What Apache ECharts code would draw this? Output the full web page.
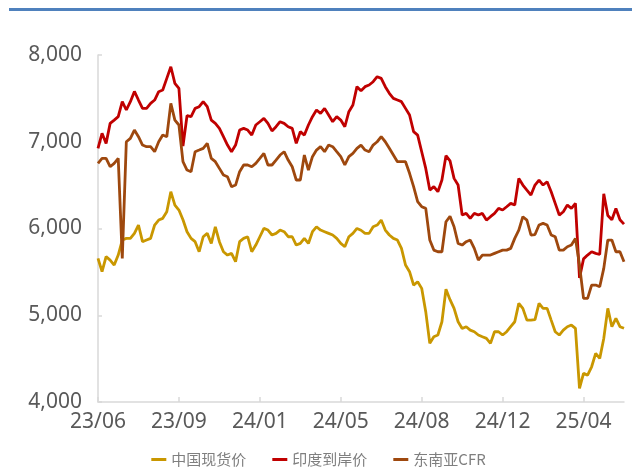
<!DOCTYPE html>
<html>
<head>
<meta charset="utf-8">
<script src="https://cdn.jsdelivr.net/npm/echarts@6/dist/echarts.min.js"></script>
<style>
  html, body { margin: 0; padding: 0; background: #fff; }
  #chart { width: 637px; height: 475px; }
</style>
</head>
<body>
<div id="chart"></div>
<script>
  // x轴刻度标签（每20个点一个）
  const tickLabels = ['23/06', '23/09', '24/01', '24/05', '24/08', '24/12', '25/04']
  const tickStep = 20

  // 中国现货价
  const chinaSpot = [
    5656, 5502, 5675, 5636, 5579, 5694, 5867, 5886, 5886, 5944,
    6040, 5848, 5867, 5886, 6040, 6097, 6117, 6193, 6424, 6270,
    6213, 6100, 5963, 5886, 5848, 5732, 5905, 5944, 5828, 6020,
    5848, 5732, 5694, 5713, 5617, 5848, 5886, 5905, 5732, 5809,
    5905, 6001, 5982, 5925, 5944, 5982, 5963, 5905, 5905, 5809,
    5828, 5886, 5828, 5963, 6020, 5982, 5963, 5944, 5925, 5886,
    5828, 5790, 5905, 5944, 6001, 5980, 5944, 5944, 6020, 6040,
    6097, 5982, 5925, 5886, 5867, 5771, 5579, 5502, 5348, 5386,
    5310, 5041, 4676, 4752, 4772, 4925, 5300, 5180, 5079, 4925,
    4848, 4868, 4829, 4810, 4772, 4752, 4733, 4676, 4810, 4810,
    4772, 4810, 4868, 4925, 5137, 5079, 4944, 4944, 4950, 5137,
    5079, 5079, 4944, 4810, 4772, 4829, 4868, 4887, 4848, 4157,
    4330, 4310, 4406, 4560, 4502, 4733, 5079, 4868, 4964, 4868,
    4850
  ]

  // 印度到岸价
  const indiaCfr = [
    6924, 7097, 6981, 7212, 7250, 7289, 7462, 7366, 7462, 7580,
    7481, 7385, 7385, 7443, 7481, 7577, 7596, 7731, 7865, 7673,
    7615, 6950, 7300, 7289, 7385, 7404, 7462, 7404, 7250, 7212,
    7154, 7058, 6962, 6885, 6962, 7135, 7154, 7135, 7077, 7193,
    7231, 7270, 7212, 7125, 7173, 7231, 7212, 7173, 7154, 6981,
    7116, 7077, 7193, 7289, 7366, 7327, 7385, 7308, 7231, 7289,
    7250, 7173, 7346, 7423, 7635, 7587, 7635, 7654, 7692, 7750,
    7731, 7635, 7558, 7500, 7481, 7462, 7385, 7308, 7116, 7077,
    6885, 6693, 6443, 6482, 6424, 6559, 6840, 6780, 6578, 6501,
    6155, 6174, 6117, 6174, 6155, 6174, 6097, 6136, 6174, 6232,
    6213, 6251, 6290, 6270, 6578, 6501, 6443, 6386, 6501, 6559,
    6501, 6539, 6424, 6290, 6155, 6193, 6270, 6232, 6290, 5430,
    5650, 5694, 5732, 5713, 5700, 6400, 6150, 6100, 6230, 6100,
    6050
  ]

  // 东南亚CFR
  const seaCfr = [
    6751, 6808, 6808, 6712, 6751, 6808, 5656, 7000, 7039, 7135,
    7058, 6962, 6943, 6943, 6885, 7000, 7077, 7058, 7443, 7250,
    7193, 6770, 6674, 6655, 6885, 6904, 6924, 6981, 6808, 6770,
    6693, 6616, 6597, 6482, 6501, 6655, 6732, 6732, 6712, 6751,
    6808, 6866, 6732, 6732, 6789, 6847, 6885, 6789, 6712, 6559,
    6559, 6847, 6674, 6828, 6904, 6943, 6885, 6962, 6943, 6885,
    6828, 6732, 6828, 6866, 6924, 6962, 6904, 6885, 6962, 7000,
    7058, 7000, 6924, 6847, 6770, 6770, 6770, 6636, 6482, 6309,
    6251, 6232, 5867, 5751, 5732, 5732, 6078, 6140, 6020, 5828,
    5809, 5848, 5867, 5771, 5636, 5694, 5694, 5694, 5713, 5732,
    5751, 5751, 5771, 5886, 5982, 6136, 6097, 5925, 5930, 6040,
    6059, 6040, 5925, 5905, 5751, 5751, 5790, 5809, 5886, 5579,
    5194, 5194, 5348, 5348, 5329, 5540, 5867, 5867, 5732, 5732,
    5617
  ]

  const categories = chinaSpot.map((_, i) => i)

  const chart = echarts.init(document.getElementById('chart'))

  const axisColor = '#D9D9D9'
  const labelColor = '#595959'

  const option = {
    animation: false,
    color: ['#C99700', '#C00000', '#9E480E'],
    graphic: [
      {
        type: 'rect',
        shape: { x: 9, y: 8, width: 623, height: 3 },
        style: { fill: '#4F81BD' }
      }
    ],
    legend: {
      bottom: 3,
      left: 'center',
      icon: 'rect',
      itemWidth: 15,
      itemHeight: 3,
      itemGap: 26,
      textStyle: {
        color: '#7F7F7F',
        fontSize: 15,
        fontFamily: 'Noto Sans CJK SC'
      },
      data: ['中国现货价', '印度到岸价', '东南亚CFR']
    },
    grid: {
      left: 98,
      right: 13,
      top: 55,
      bottom: 73
    },
    xAxis: {
      type: 'category',
      data: categories,
      boundaryGap: false,
      axisLine: { lineStyle: { color: axisColor, width: 1.5 } },
      axisTick: {
        inside: true,
        length: 5,
        interval: (idx) => idx % tickStep === 0,
        lineStyle: { color: axisColor, width: 1.5 }
      },
      axisLabel: {
        interval: (idx) => idx % tickStep === 0,
        formatter: (val, idx) => tickLabels[idx / tickStep],
        color: labelColor,
        fontSize: 21,
        fontFamily: 'Noto Sans',
        margin: 10
      },
      splitLine: { show: false }
    },
    yAxis: {
      type: 'value',
      min: 4000,
      max: 8000,
      interval: 1000,
      axisLine: { show: true, lineStyle: { color: axisColor, width: 1.5 } },
      axisTick: {
        show: true,
        inside: true,
        length: 4,
        lineStyle: { color: axisColor, width: 1.5 }
      },
      axisLabel: {
        formatter: (v) => v.toLocaleString('en-US'),
        color: labelColor,
        fontSize: 21,
        fontFamily: 'Noto Sans',
        margin: 16
      },
      splitLine: { show: false }
    },
    series: [
      { name: '中国现货价', type: 'line', data: chinaSpot, showSymbol: false, lineStyle: { width: 2.8 } },
      { name: '印度到岸价', type: 'line', data: indiaCfr, showSymbol: false, lineStyle: { width: 2.8 } },
      { name: '东南亚CFR', type: 'line', data: seaCfr, showSymbol: false, lineStyle: { width: 2.8 } }
    ]
  }

  chart.setOption(option)

  window.addEventListener('resize', () => {
    chart.resize()
  })
</script>
</body>
</html>
